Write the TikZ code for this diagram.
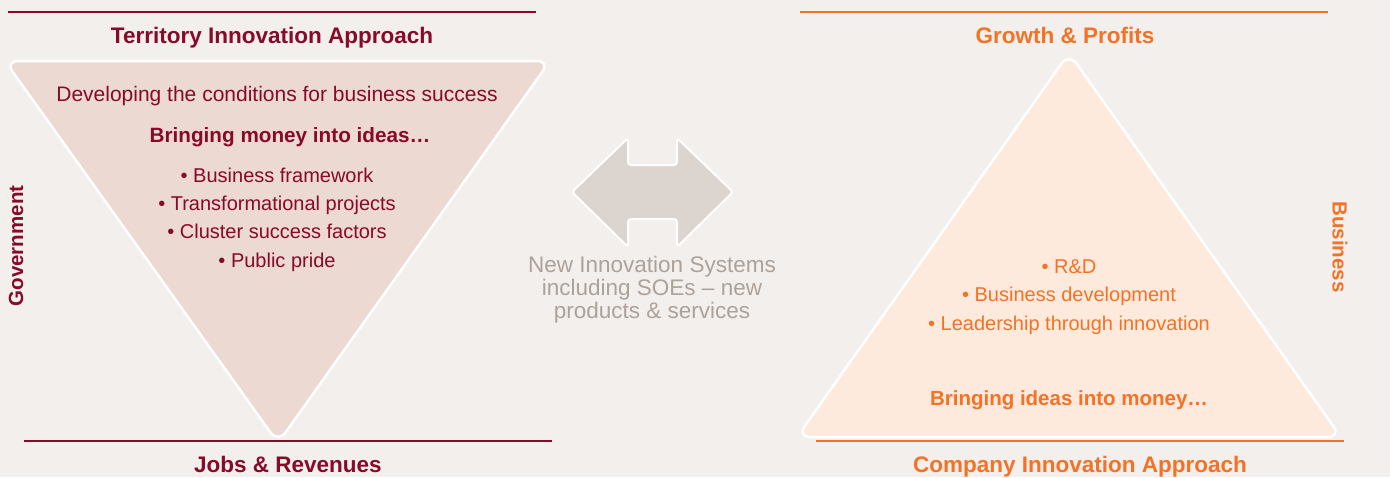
\documentclass[tikz,border=0pt]{standalone}
\usepackage{fontspec}
\setmainfont{Liberation Sans}
\usetikzlibrary{positioning}
\definecolor{govred}{HTML}{870A28}
\definecolor{bizorange}{HTML}{F37226}
\definecolor{pagebg}{HTML}{F3EFEC}
\definecolor{govfill}{HTML}{EBD9D2}
\definecolor{bizfill}{HTML}{FDEADC}
\definecolor{arrowfill}{HTML}{DCD4CF}
\definecolor{greytext}{HTML}{ADA29A}
\newcommand{\fsz}[1]{\fontsize{#1}{#1}\selectfont}

\begin{document}
\begin{tikzpicture}[x=1pt,y=-1pt]
\tikzstyle{every node}+=[inner sep=0pt]
\tikzstyle{govtext}=[govred, anchor=base, font=\fsz{20}]
\tikzstyle{govhead}=[govred, anchor=base, font=\fsz{22.5}\bfseries]
\tikzstyle{biztext}=[bizorange, anchor=base, font=\fsz{20}]
\tikzstyle{bizhead}=[bizorange, anchor=base, font=\fsz{22.5}\bfseries]
\tikzstyle{panel}=[draw=white, line width=2.5pt, rounded corners=13pt]
\useasboundingbox (0,0) rectangle (1390,477);
\fill [pagebg] (0,0) rectangle (1390,477);
% left side: government
\draw [govred, line width=2pt] (8,12) -- (536,12);
\draw [govred, line width=2pt] (24,441) -- (552,441);
\draw [panel, fill=govfill] (5,61) -- (550,61) -- (278,443) -- cycle;
\node [govhead] (terr) at (272,43) {Territory Innovation Approach};
\node [govhead] (jobs) at (288,472) {Jobs \& Revenues};
\node [govtext, font=\fsz{21}] (cond) at (277,101) {Developing the conditions for business success};
\node [govtext, font=\fsz{20.7}\bfseries] (money) at (290,142) {Bringing money into ideas…};
\node [govtext] (frame) at (277,182) {• Business framework};
\node [govtext] (proj) at (277,210) {• Transformational projects};
\node [govtext] (clus) at (277,238) {• Cluster success factors};
\node [govtext] (pride) at (277,267) {• Public pride};
\node [govred, font=\fsz{20.5}\bfseries, rotate=90] (gov) at (16,246) {Government};
% middle arrow
\draw [draw=white, line width=2pt, fill=arrowfill, rounded corners=3pt]
  (572,192) -- (628,138) -- (628,165) -- (677,165) -- (677,138) -- (733,192)
  -- (677,247) -- (677,219) -- (628,219) -- (628,247) -- cycle;
\node [greytext, align=center, anchor=north, font=\fontsize{22.5}{23}\selectfont] (nis) at (652,256)
  {New Innovation Systems\\including SOEs – new\\products \& services};
% right side: business
\draw [bizorange, line width=2pt] (800,12) -- (1328,12);
\draw [bizorange, line width=2pt] (816,441) -- (1344,441);
\draw [panel, fill=bizfill] (1069,53) -- (1341,437) -- (797,437) -- cycle;
\node [bizhead] (grow) at (1065,43) {Growth \& Profits};
\node [bizhead] (comp) at (1080,472) {Company Innovation Approach};
\node [biztext] (rd) at (1069,273) {• R\&D};
\node [biztext] (dev) at (1069,301) {• Business development};
\node [biztext] (lead) at (1069,330) {• Leadership through innovation};
\node [biztext, font=\fsz{20.5}\bfseries] (ideas) at (1069,405) {Bringing ideas into money…};
\node [bizorange, font=\fsz{20.5}\bfseries, rotate=-90] (biz) at (1340,247) {Business};
\end{tikzpicture}
\end{document}
